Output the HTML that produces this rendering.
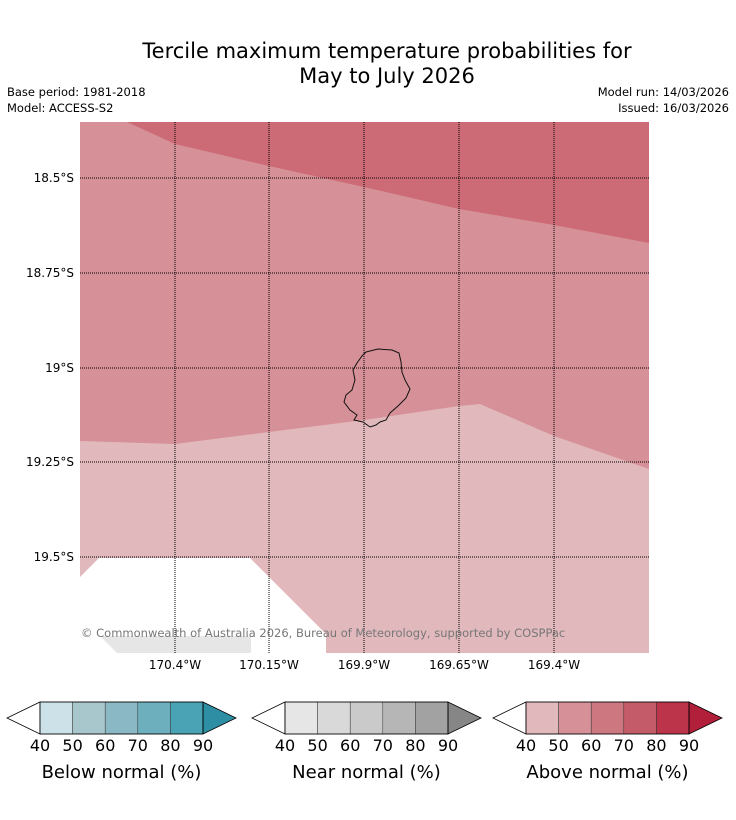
<!DOCTYPE html>
<html><head><meta charset="utf-8"><style>
body{margin:0;background:#fff;width:736px;height:816px;overflow:hidden;font-family:"DejaVu Sans","Liberation Sans",sans-serif}
</style></head><body>
<svg width="736" height="816" viewBox="0 0 736 816" xmlns="http://www.w3.org/2000/svg" font-family="DejaVu Sans, Liberation Sans, sans-serif">
<g>
<text x="387" y="58" text-anchor="middle" font-size="21" fill="#000">Tercile maximum temperature probabilities for</text>
<text x="387" y="83" text-anchor="middle" font-size="21" fill="#000">May to July 2026</text>
</g>
<g font-size="11.5" fill="#000">
<text x="7" y="96">Base period: 1981-2018</text>
<text x="7" y="112">Model: ACCESS-S2</text>
<text x="729" y="96" text-anchor="end">Model run: 14/03/2026</text>
<text x="729" y="112" text-anchor="end">Issued: 16/03/2026</text>
</g>
<g>
<defs><clipPath id="mc"><rect x="80" y="122" width="569" height="531"/></clipPath></defs>
<g clip-path="url(#mc)">
<rect x="80" y="122" width="569" height="531" fill="#d69097"/>
<polygon fill="#cc6b76" points="127,122 175,144 269,166 364,187 459,209 554,225 649,243 649,122"/>
<polygon fill="#e1b9bd" points="80,441 175,444 269,432 364,420 459,406 480,404 554,436 649,469 649,653 80,653"/>
<polygon fill="#fff" points="80,577 99,558 250,558 326,634 326,653 80,653"/>
<polygon fill="#e6e6e6" points="100,636 251,636 251,653 117,653"/>
<g stroke="#000" stroke-width="1" stroke-dasharray="1,1">
<line x1="175" y1="122" x2="175" y2="653"/><line x1="269" y1="122" x2="269" y2="653"/><line x1="364" y1="122" x2="364" y2="653"/><line x1="459" y1="122" x2="459" y2="653"/><line x1="554" y1="122" x2="554" y2="653"/>
<line x1="80" y1="178" x2="649" y2="178"/><line x1="80" y1="273" x2="649" y2="273"/><line x1="80" y1="368" x2="649" y2="368"/><line x1="80" y1="462" x2="649" y2="462"/><line x1="80" y1="557" x2="649" y2="557"/>
</g>
<polygon fill="none" stroke="#111" stroke-width="1" points="366,352 378,349 392,350 399,353 401,362 402,372 405,380 410,389 406,398 398,406 390,413 386,420 380,422 376,425 370,427 363,422 354,420 357,415 350,410 344,402 346,395 352,390 355,380 353,370 357,363 362,356"/>
<text x="81" y="637" font-size="11.5" fill="#777">© Commonwealth of Australia 2026, Bureau of Meteorology, supported by COSPPac</text>
</g>
</g>
<g font-size="12" fill="#000">
<text x="74" y="182" text-anchor="end">18.5°S</text><text x="74" y="277" text-anchor="end">18.75°S</text><text x="74" y="372" text-anchor="end">19°S</text><text x="74" y="466" text-anchor="end">19.25°S</text><text x="74" y="561" text-anchor="end">19.5°S</text>
</g>
<g font-size="12" fill="#000" text-anchor="middle">
<text x="175" y="669">170.4°W</text><text x="269" y="669">170.15°W</text><text x="364" y="669">169.9°W</text><text x="459" y="669">169.65°W</text><text x="554" y="669">169.4°W</text>
</g>
<g id="cbars"></g>
</svg>
<script>
const cbTitles=["Below normal (%)","Near normal (%)","Above normal (%)"];
const cbNames=["below-normal","near-normal","above-normal"];
const cbColors=[["#cce2e8","#a8c7cc","#8ab8c4","#6eafbe","#4aa3b4","#2e8ea3"],["#e6e6e6","#d9d9d9","#cacaca","#b6b6b6","#a2a2a2","#868686"],["#e1b9bd","#d69097","#cd7880","#c45b68","#bb344a","#b21f3a"]];
const cbTicks=[40,50,60,70,80,90];
const cbStarts=[40,285,526];
const NS="http://www.w3.org/2000/svg";
const g=document.getElementById('cbars');
function mk(t,a,p){const e=document.createElementNS(NS,t);for(const k in a)e.setAttribute(k,a[k]);(p||g).appendChild(e);return e;}
cbTitles.forEach((title,i)=>{
 const x0=cbStarts[i],w=163,y0=702,h=32,seg=w/(cbTicks.length-1);
 const grp=mk('g',{});
 
 
 mk('polygon',{points:`${x0},${y0} ${x0-33},${y0+h/2} ${x0},${y0+h}`,fill:'#fff',stroke:'#000','stroke-width':0.8},grp);
 for(let j=0;j<cbTicks.length-1;j++){
  const r=mk('rect',{x:x0+j*seg,y:y0,width:seg,height:h,fill:cbColors[i][j],stroke:'#333','stroke-width':0.5},grp);
  
  
 }
 mk('polygon',{points:`${x0+w},${y0} ${x0+w+33},${y0+h/2} ${x0+w},${y0+h}`,fill:cbColors[i][5],stroke:'#000','stroke-width':0.8},grp);
 mk('rect',{x:x0,y:y0,width:w,height:h,fill:'none',stroke:'#000','stroke-width':0.8},grp);
 cbTicks.forEach((t,j)=>{const tx=mk('text',{x:x0+j*seg,y:751,'font-size':16,'text-anchor':'middle'},grp);tx.textContent=t;});
 const tt=mk('text',{x:x0+w/2,y:778,'font-size':18,'text-anchor':'middle'},grp);
 
 
 tt.textContent=title;
});
</script>
</body></html>
